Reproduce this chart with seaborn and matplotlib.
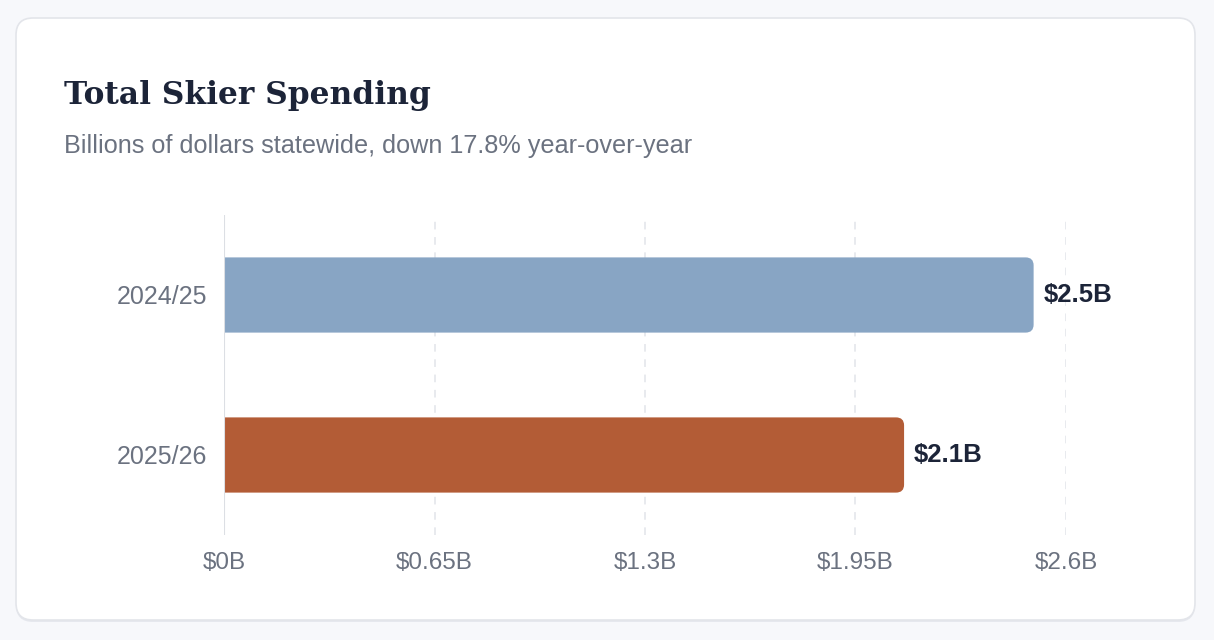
import matplotlib
matplotlib.use("Agg")
import matplotlib.pyplot as plt
from matplotlib.patches import FancyBboxPatch
import pandas as pd
import seaborn as sns

# data
seasons = ["2024/25", "2025/26"]
spending = [2.5, 2.1]
value_labels = ["$2.5B", "$2.1B"]
xticks = [0, 0.65, 1.3, 1.95, 2.6]
xtick_labels = ["$0B", "$0.65B", "$1.3B", "$1.95B", "$2.6B"]
bar_colors = ["#88a5c4", "#b35c36"]

title = "Total Skier Spending"
subtitle = "Billions of dollars statewide, down 17.8% year-over-year"

W, H = 1214, 640
sns.set_theme(style="white")
plt.rcParams["font.family"] = ["Liberation Sans", "DejaVu Sans"]

fig = plt.figure(figsize=(W / 100, H / 100), dpi=100)
fig.patch.set_facecolor("#f7f8fb")

# card with a faint shadow
shadow = FancyBboxPatch((16 / W, (H - 622) / H), (1179 / W), (602 / H),
                        boxstyle="round,pad=0,rounding_size=0.014",
                        transform=fig.transFigure, facecolor="#e6e8ee",
                        edgecolor="none", mutation_aspect=W / H, zorder=-2)
card = FancyBboxPatch((16 / W, (H - 620) / H), (1179 / W), (602 / H),
                      boxstyle="round,pad=0,rounding_size=0.014",
                      transform=fig.transFigure, facecolor="white",
                      edgecolor="#e3e5ea", linewidth=1.2,
                      mutation_aspect=W / H, zorder=-1)
fig.patches.extend([shadow, card])

fig.text(64 / W, 1 - 104 / H, title, family=["DejaVu Serif"], weight="bold",
         fontsize=22.5, color="#1c2438", va="baseline", ha="left")
fig.text(64 / W, 1 - 153 / H, subtitle, fontsize=18.2, color="#6b7280",
         va="baseline", ha="left")

ax = fig.add_axes([224 / W, 1 - 535 / H, (1066 - 224) / W, 320 / H])
ax.set_facecolor("none")

df = pd.DataFrame({"season": seasons, "spending": spending})
sns.barplot(data=df, y="season", x="spending", hue="season",
            palette=bar_colors, orient="h", width=0.47, legend=False,
            ax=ax, zorder=3)

ax.set_xlim(0, 2.6)
ax.set_ylim(1.5, -0.5)

# rounded right ends; the left corners sit below x=0 and get clipped off
ax_w = (1066 - 224)
ax_h = 320
aspect = (2.0 / ax_h) / (2.6 / ax_w)
r = 8 * 2.6 / ax_w
for p, col in zip(list(ax.patches), bar_colors):
    x0, y0 = p.get_x(), p.get_y()
    w, h = p.get_width(), p.get_height()
    p.set_visible(False)
    ax.add_patch(FancyBboxPatch((x0 - 3 * r, y0), w + 3 * r, h,
                                boxstyle=f"round,pad=0,rounding_size={r}",
                                mutation_aspect=aspect, facecolor=col,
                                edgecolor="none", zorder=3))

for i, (v, lab) in enumerate(zip(spending, value_labels)):
    ax.annotate(lab, (v, i), xytext=(7, 0), textcoords="offset points",
                va="center", ha="left", fontsize=18.5, weight="bold",
                color="#1c2438", annotation_clip=False)

ax.set_xticks(xticks)
ax.set_xticklabels(xtick_labels)
for x in xticks[1:]:
    ax.axvline(x, color="#e2e4e9", linestyle=(0, (5, 5)), linewidth=1.1,
               zorder=1)
ax.axvline(0, color="#dcdfe4", linewidth=1.5, zorder=4)

for s in ax.spines.values():
    s.set_visible(False)
ax.tick_params(axis="both", length=0, labelcolor="#6b7280")
ax.tick_params(axis="x", pad=12, labelsize=17.5)
ax.tick_params(axis="y", pad=12, labelsize=18)
ax.set_xlabel("")
ax.set_ylabel("")

fig.savefig("out.png", dpi=100, facecolor=fig.get_facecolor())
